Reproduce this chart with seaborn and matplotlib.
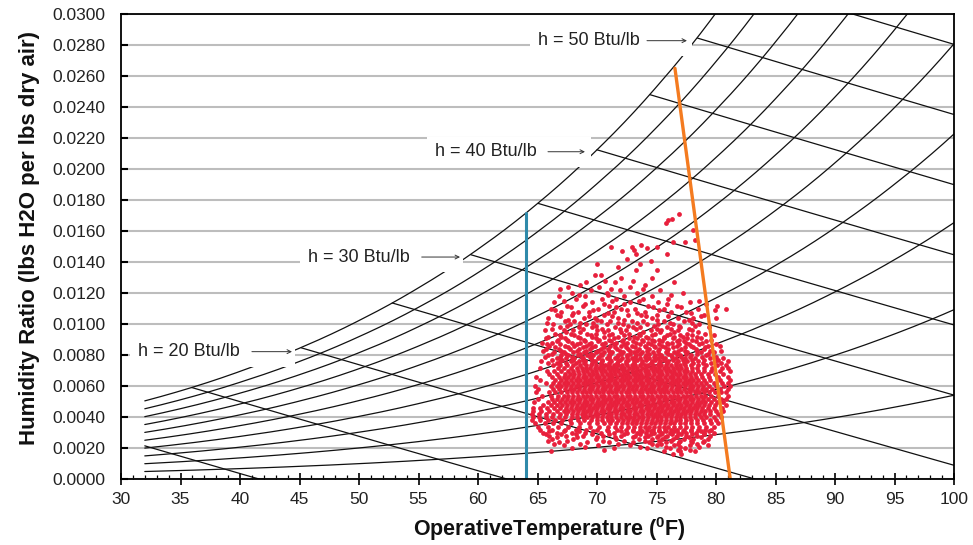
import numpy as np
import pandas as pd
import matplotlib
matplotlib.use("Agg")
import matplotlib.pyplot as plt
import seaborn as sns
from matplotlib.patches import Rectangle
from matplotlib.ticker import MultipleLocator, FormatStrFormatter

# ---------------- data ----------------
# saturation pressure of water vapour (psia) at chart temperatures (F)
psat_temps = [32, 35, 40, 45, 50, 55, 60, 65, 70, 75, 80, 85, 90, 95, 100]
psat_psia = [0.0887, 0.0999, 0.1217, 0.1475, 0.1781, 0.2141, 0.2563, 0.3057,
             0.3633, 0.4300, 0.5073, 0.5964, 0.6988, 0.8162, 0.9503]
chart_pressure_psia = 11.0
rh_levels = [0.1, 0.2, 0.3, 0.4, 0.5, 0.6, 0.7, 0.8, 0.9, 1.0]
enthalpy_levels = [10, 15, 20, 25, 30, 35, 40, 45, 50, 55]

lower_limit_t = [64.0, 64.0]
lower_limit_w = [0.0, 0.0172]
upper_limit_t = [81.2, 76.55]
upper_limit_w = [0.0, 0.0265]

label_texts = ["h = 20 Btu/lb", "h = 30 Btu/lb", "h = 40 Btu/lb", "h = 50 Btu/lb"]

# observed operative temperature / humidity ratio points, by humidity row
obs_rows = [
    (0.0171, [76.9]),
    (0.0168, [76.3]),
    (0.0167, [76.0]),
    (0.0165, [75.8]),
    (0.0161, [78.1]),
    (0.0154, [78.2]),
    (0.0153, [77.4, 76.4]),
    (0.0151, [73.7]),
    (0.0150, [71.2, 72.9, 75.0]),
    (0.0149, [74.2]),
    (0.0148, [73.1]),
    (0.0147, [72.1]),
    (0.0145, [75.9, 73.3]),
    (0.0142, [72.5]),
    (0.0141, [74.5]),
    (0.0139, [70.0, 73.6]),
    (0.0137, [71.8]),
    (0.0135, [73.3, 75.0]),
    (0.0132, [70.3, 69.8]),
    (0.0130, [74.6, 72.0]),
    (0.0128, [70.7, 73.0]),
    (0.0127, [69.1, 71.5, 76.5]),
    (0.0125, [68.6, 74.0]),
    (0.0124, [67.6, 70.2, 72.8]),
    (0.0123, [66.9, 71.2, 73.9]),
    (0.0122, [69.5, 71.9, 75.3]),
    (0.0120, [67.9, 70.8, 73.4, 77.2]),
    (0.0119, [68.5, 70.9, 76.2]),
    (0.0118, [66.8, 69.0, 72.3, 74.6]),
    (0.0116, [68.2, 70.4, 71.6, 73.9, 76.0]),
    (0.0115, [67.2, 71.3, 73.5, 78.6]),
    (0.0114, [66.4, 69.6, 72.8, 75.1, 77.8]),
    (0.0113, [69.0, 70.6, 72.3, 75.9, 79.2]),
    (0.0112, [67.5, 68.8, 71.0, 74.3, 76.7, 80.1]),
    (0.0111, [67.8, 71.6, 74.7, 77.1]),
    (0.0110, [66.1, 70.1, 72.0, 73.2, 75.6, 78.5, 80.8]),
    (0.0109, [66.5, 69.7, 72.5, 75.2, 79.9]),
    (0.0108, [67.0, 68.4, 69.3, 71.4, 74.0, 76.2, 77.5]),
    (0.0107, [68.0, 70.9, 73.4, 77.9]),
    (0.0106, [66.6, 67.9, 70.6, 72.6, 73.7, 75.0, 79.0]),
    (0.0105, [66.9, 69.3, 71.3, 74.1, 76.0, 78.7]),
    (0.0104, [65.9, 68.9, 69.8, 71.8, 74.6, 76.8, 78.1, 80.0]),
    (0.0103, [67.6, 70.0, 72.3, 75.0, 77.7]),
    (0.0102, [67.3, 68.1, 70.3, 71.1, 72.9, 73.9, 75.6, 77.3]),
    (0.0101, [65.8, 68.6, 69.7, 71.8, 73.4, 76.1, 78.0]),
    (0.0100, [66.3, 67.7, 69.1, 70.8, 72.2, 74.2, 75.1, 76.4, 78.6]),
    (0.0099, [67.5, 69.9, 72.6, 74.8, 76.9, 78.2]),
    (0.0098, [66.9, 68.5, 69.6, 71.5, 73.0, 73.6, 75.9, 77.0, 79.4]),
    (0.0097, [66.2, 68.8, 70.4, 71.9, 73.3, 75.0, 76.2, 77.7]),
    (0.0096, [65.6, 67.2, 68.0, 70.0, 70.9, 72.4, 74.5, 75.4, 76.8, 78.0]),
    (0.0095, [67.4, 68.6, 70.6, 72.0, 73.9, 75.3, 76.5, 78.5]),
    (0.0094, [66.5, 67.8, 69.2, 69.9, 71.3, 72.7, 73.5, 74.9, 76.1, 77.6, 79.1]),
    (0.0093, [66.9, 68.1, 69.5, 71.0, 72.3, 73.6, 74.6, 75.9, 77.0, 78.0, 79.8]),
    (0.0092, [65.9, 67.0, 68.4, 69.6, 70.6, 71.8, 73.1, 74.1, 75.6, 76.5, 77.2, 78.4]),
    (0.0091, [65.7, 67.3, 68.6, 69.9, 71.4, 72.7, 73.4, 74.3, 75.6, 76.4, 77.6, 78.7]),
    (0.0090, [66.7, 67.5, 68.9, 70.2, 71.0, 72.2, 73.8, 74.6, 75.2, 76.9, 78.0, 79.6]),
    (0.0089, [66.6, 67.6, 69.0, 70.1, 71.2, 72.1, 73.0, 73.9, 74.8, 75.5, 76.7, 77.3, 78.3, 79.2]),
    (0.0088, [65.4, 66.2, 67.9, 68.6, 69.5, 70.7, 71.6, 72.5, 73.3, 74.3, 75.9, 76.3, 77.5, 78.8]),
    (0.0087, [65.8, 66.9, 68.3, 69.3, 70.4, 71.4, 72.3, 73.6, 74.5, 75.2, 76.0, 76.9, 77.7, 78.6, 80.0]),
    (0.0086, [66.0, 67.3, 68.1, 69.1, 69.8, 71.1, 72.0, 72.9, 74.0, 74.8, 75.5, 76.7, 77.9, 79.3, 80.3]),
    (0.0085, [66.5, 67.6, 68.8, 69.6, 70.6, 71.5, 72.4, 73.2, 74.1, 74.9, 75.7, 76.4, 77.4, 78.1, 79.1]),
    (0.0084, [65.7, 66.8, 67.7, 68.5, 69.4, 70.3, 70.9, 71.7, 72.6, 73.5, 74.4, 75.2, 76.0, 77.1, 78.3, 79.0]),
    (0.0083, [65.5, 67.0, 68.3, 69.1, 70.1, 71.0, 71.9, 72.8, 73.4, 74.2, 75.1, 75.9, 76.8, 77.4, 78.4, 79.5,
              80.4]),
    (0.0082, [66.4, 67.2, 68.0, 68.9, 69.9, 70.6, 71.3, 72.2, 73.1, 73.8, 74.7, 75.8, 76.5, 77.6, 78.7, 79.8]),
    (0.0081, [66.2, 67.4, 68.6, 69.5, 70.3, 71.1, 72.0, 72.8, 73.6, 74.4, 75.2, 76.0, 76.7, 77.5, 78.4, 79.3]),
    (0.0080, [65.9, 67.0, 67.6, 68.4, 69.2, 69.7, 70.4, 71.0, 71.8, 72.5, 73.3, 74.1, 74.9, 75.4, 76.2, 77.0,
              77.9, 79.2]),
    (0.0079, [65.6, 66.9, 67.9, 68.7, 69.4, 70.2, 71.0, 71.7, 72.5, 73.2, 74.0, 74.8, 75.5, 76.3, 77.1, 77.8,
              78.8, 80.0]),
    (0.0078, [66.6, 67.4, 68.1, 68.8, 69.5, 70.1, 70.8, 71.5, 72.1, 72.9, 73.6, 74.4, 75.1, 75.7, 76.6, 77.4,
              78.2, 79.5, 80.6]),
    (0.0077, [66.2, 67.1, 68.0, 68.8, 69.6, 70.4, 71.1, 71.9, 72.6, 73.4, 74.1, 74.9, 75.6, 76.4, 77.2, 78.0,
              79.0, 80.2]),
    (0.0076, [65.3, 66.9, 67.8, 68.5, 69.0, 69.8, 70.4, 71.2, 71.8, 72.4, 73.1, 73.8, 74.6, 75.3, 76.0, 76.8,
              77.6, 78.5, 79.9, 81.0]),
    (0.0075, [65.9, 66.6, 67.4, 68.2, 68.9, 69.6, 70.3, 71.0, 71.7, 72.4, 73.1, 73.8, 74.5, 75.2, 75.9, 76.6,
              77.3, 78.1, 78.9, 79.6, 80.4]),
    (0.0074, [66.3, 66.9, 67.5, 68.0, 68.6, 69.1, 69.5, 69.9, 70.3, 70.7, 71.0, 71.4, 71.8, 72.1, 72.5,
              72.9, 73.2, 73.6, 74.0, 74.3, 74.7, 75.1, 75.4, 75.8, 76.2, 76.6, 77.0, 77.4, 77.9, 78.5, 79.2,
              80.1, 80.8]),
    (0.0072, [65.2, 66.7, 67.2, 67.8, 68.3, 68.7, 69.1, 69.4, 69.8, 70.2, 70.5, 70.9, 71.3, 71.6, 72.0,
              72.3, 72.7, 73.0, 73.4, 73.8, 74.1, 74.5, 74.9, 75.2, 75.6, 76.0, 76.4, 76.7, 77.1, 77.5, 78.0,
              78.4, 79.0, 79.7, 80.5, 81.0]),
    (0.0070, [65.8, 66.4, 67.0, 67.6, 68.0, 68.4, 68.8, 69.2, 69.6, 69.9, 70.3, 70.7, 71.1, 71.4, 71.8,
              72.2, 72.5, 72.9, 73.3, 73.6, 74.0, 74.3, 74.7, 75.0, 75.4, 75.8, 76.1, 76.5, 76.9, 77.3, 77.6,
              78.0, 78.5, 79.0, 79.6, 80.3, 81.2]),
    (0.0068, [66.0, 66.6, 67.3, 67.7, 68.1, 68.5, 68.9, 69.3, 69.7, 70.0, 70.4, 70.8, 71.2, 71.5, 71.9,
              72.3, 72.6, 73.0, 73.4, 73.7, 74.1, 74.4, 74.8, 75.2, 75.5, 75.9, 76.3, 76.6, 77.0, 77.4, 77.8,
              78.2, 78.7, 79.3, 79.9, 80.6]),
    (0.0066, [64.9, 66.2, 66.8, 67.2, 67.6, 68.0, 68.4, 68.8, 69.1, 69.5, 69.9, 70.2, 70.6, 71.0, 71.3,
              71.7, 72.1, 72.4, 72.8, 73.2, 73.5, 73.9, 74.2, 74.6, 75.0, 75.3, 75.7, 76.1, 76.4, 76.8, 77.2,
              77.5, 77.9, 78.3, 78.8, 79.4, 80.2, 81.0]),
    (0.0064, [65.2, 66.5, 67.0, 67.4, 67.8, 68.2, 68.6, 69.0, 69.3, 69.7, 70.1, 70.4, 70.8, 71.2, 71.5,
              71.9, 72.3, 72.6, 73.0, 73.4, 73.7, 74.1, 74.4, 74.8, 75.2, 75.5, 75.9, 76.3, 76.6, 77.0, 77.4,
              77.7, 78.1, 78.5, 79.0, 79.5, 80.3, 81.2]),
    (0.0062, [65.7, 66.3, 66.8, 67.2, 67.6, 68.0, 68.4, 68.8, 69.2, 69.5, 69.9, 70.3, 70.6, 71.0, 71.4,
              71.7, 72.1, 72.5, 72.8, 73.2, 73.6, 73.9, 74.3, 74.6, 75.0, 75.4, 75.7, 76.1, 76.5, 76.8, 77.2,
              77.6, 77.9, 78.3, 78.7, 79.2, 79.8, 80.5, 81.0]),
    (0.0060, [64.8, 66.1, 66.6, 67.0, 67.4, 67.8, 68.2, 68.6, 69.0, 69.4, 69.7, 70.1, 70.5, 70.8, 71.2,
              71.6, 71.9, 72.3, 72.7, 73.0, 73.4, 73.8, 74.1, 74.5, 74.8, 75.2, 75.6, 75.9, 76.3, 76.7, 77.0,
              77.4, 77.8, 78.1, 78.5, 78.9, 79.4, 80.0, 80.7, 81.2]),
    (0.0058, [65.0, 66.3, 66.8, 67.3, 67.7, 68.1, 68.5, 68.9, 69.3, 69.6, 70.0, 70.4, 70.7, 71.1, 71.5,
              71.8, 72.2, 72.6, 72.9, 73.3, 73.7, 74.0, 74.4, 74.7, 75.1, 75.5, 75.8, 76.2, 76.6, 76.9, 77.3,
              77.7, 78.0, 78.4, 78.8, 79.2, 79.7, 80.3, 81.0]),
    (0.0056, [64.9, 66.0, 66.5, 67.0, 67.5, 67.9, 68.3, 68.7, 69.1, 69.4, 69.8, 70.2, 70.5, 70.9, 71.3,
              71.6, 72.0, 72.4, 72.7, 73.1, 73.5, 73.8, 74.2, 74.5, 74.9, 75.3, 75.6, 76.0, 76.4, 76.7, 77.1,
              77.5, 77.8, 78.2, 78.6, 79.0, 79.4, 79.9, 80.4, 80.8]),
    (0.0054, [65.4, 66.1, 66.7, 67.2, 67.6, 68.0, 68.4, 68.8, 69.2, 69.5, 69.9, 70.3, 70.6, 71.0, 71.4,
              71.7, 72.1, 72.5, 72.8, 73.2, 73.6, 73.9, 74.3, 74.6, 75.0, 75.4, 75.7, 76.1, 76.5, 76.8, 77.2,
              77.6, 77.9, 78.3, 78.7, 79.1, 79.6, 80.2, 81.0]),
    (0.0052, [65.0, 66.2, 66.6, 67.1, 67.5, 67.9, 68.3, 68.6, 69.0, 69.4, 69.7, 70.1, 70.5, 70.8, 71.2,
              71.6, 71.9, 72.3, 72.7, 73.0, 73.4, 73.8, 74.1, 74.5, 74.8, 75.2, 75.6, 75.9, 76.3, 76.7, 77.0,
              77.4, 77.8, 78.1, 78.5, 78.9, 79.3, 79.8, 80.4, 80.8]),
    (0.0050, [64.7, 65.9, 66.4, 66.9, 67.3, 67.7, 68.1, 68.5, 68.9, 69.2, 69.6, 70.0, 70.3, 70.7, 71.1,
              71.4, 71.8, 72.2, 72.5, 72.9, 73.3, 73.6, 74.0, 74.3, 74.7, 75.1, 75.4, 75.8, 76.2, 76.5, 76.9,
              77.3, 77.6, 78.0, 78.4, 78.7, 79.1, 79.6, 80.1, 80.6]),
    (0.0048, [65.5, 66.1, 66.6, 67.1, 67.5, 67.9, 68.3, 68.7, 69.1, 69.4, 69.8, 70.2, 70.5, 70.9, 71.3,
              71.6, 72.0, 72.4, 72.7, 73.1, 73.5, 73.8, 74.2, 74.5, 74.9, 75.3, 75.6, 76.0, 76.4, 76.7, 77.1,
              77.5, 77.8, 78.2, 78.6, 79.0, 79.4, 79.9, 80.8]),
    (0.0046, [64.6, 65.2, 65.8, 66.4, 66.9, 67.4, 67.8, 68.2, 68.6, 68.9, 69.3, 69.7, 70.0, 70.4, 70.8, 71.1,
              71.5, 71.9, 72.2, 72.6, 73.0, 73.3, 73.7, 74.1, 74.4, 74.8, 75.1, 75.5, 75.9, 76.2, 76.6, 77.0,
              77.3, 77.7, 78.1, 78.4, 78.8, 79.3, 79.8, 80.5]),
    (0.0044, [64.6, 65.3, 66.0, 66.6, 67.2, 67.6, 68.0, 68.4, 68.8, 69.2, 69.5, 69.9, 70.3, 70.6, 71.0, 71.4,
              71.7, 72.1, 72.5, 72.8, 73.2, 73.6, 73.9, 74.3, 74.6, 75.0, 75.4, 75.7, 76.1, 76.5, 76.8, 77.2,
              77.6, 77.9, 78.3, 78.7, 79.1, 79.5, 80.0, 80.6]),
    (0.0042, [64.5, 65.1, 65.7, 66.3, 66.9, 67.4, 67.9, 68.3, 68.7, 69.0, 69.4, 69.8, 70.1, 70.5, 70.9, 71.2,
              71.6, 72.0, 72.3, 72.7, 73.1, 73.4, 73.8, 74.2, 74.5, 74.9, 75.2, 75.6, 76.0, 76.3, 76.7, 77.1,
              77.4, 77.8, 78.2, 78.6, 79.0, 79.5, 80.2]),
    (0.0040, [64.6, 65.1, 65.7, 66.2, 66.8, 67.3, 67.9, 68.3, 68.8, 69.2, 69.6, 70.0, 70.4, 70.8, 71.2, 71.6,
              72.0, 72.4, 72.8, 73.1, 73.5, 73.9, 74.3, 74.7, 75.0, 75.4, 75.8, 76.2, 76.6, 77.0, 77.4, 77.8,
              78.2, 78.7, 79.2, 79.8, 80.4]),
    (0.0038, [64.5, 65.2, 65.9, 66.5, 67.1, 67.7, 68.4, 68.9, 69.5, 70.0, 70.4, 70.9, 71.3, 71.8, 72.2, 72.6,
              73.0, 73.4, 73.8, 74.2, 74.6, 75.0, 75.4, 75.8, 76.2, 76.6, 77.0, 77.5, 77.9, 78.4, 78.9, 79.5,
              80.0]),
    (0.0036, [64.8, 65.6, 66.3, 67.0, 67.8, 68.6, 69.3, 70.0, 70.6, 71.1, 71.6, 72.1, 72.5, 72.9, 73.3, 73.7,
              74.1, 74.5, 74.9, 75.3, 75.7, 76.1, 76.5, 77.0, 77.4, 77.9, 78.4, 79.0, 79.6, 80.2]),
    (0.0034, [65.0, 65.9, 66.7, 67.6, 68.5, 69.4, 70.2, 70.9, 71.5, 72.0, 72.6, 73.1, 73.6, 74.0, 74.4, 74.8,
              75.2, 75.6, 76.0, 76.5, 77.0, 77.5, 78.0, 78.6, 79.2, 79.8]),
    (0.0032, [65.2, 66.2, 67.3, 68.2, 69.1, 70.0, 70.8, 71.7, 72.4, 73.0, 73.6, 74.2, 74.7, 75.2, 75.7, 76.2,
              76.7, 77.3, 77.9, 78.5, 79.1, 79.6]),
    (0.0031, [66.0, 67.2, 68.5, 69.7, 70.9, 72.0, 73.0, 73.8, 74.5, 75.2, 75.8, 76.5, 77.2, 77.9, 78.7, 79.4]),
    (0.0030, [65.5, 66.6, 67.9, 69.0, 70.3, 71.4, 72.5, 73.4, 74.1, 74.8, 75.5, 76.1, 76.8, 77.5, 78.3, 79.0,
              79.8]),
    (0.0029, [65.7, 67.0, 68.2, 69.6, 71.0, 72.3, 73.6, 74.5, 75.4, 76.3, 77.1, 78.0, 79.0]),
    (0.0028, [66.0, 67.4, 68.8, 70.5, 72.0, 73.2, 74.3, 75.1, 75.9, 76.7, 77.5, 78.4, 79.5]),
    (0.0027, [66.6, 68.3, 70.0, 71.5, 73.0, 74.0, 75.0, 75.7, 76.6, 77.7, 78.7]),
    (0.0026, [66.2, 68.0, 69.9, 71.6, 73.5, 74.6, 75.5, 76.4, 77.3, 78.1, 79.3]),
    (0.0025, [65.9, 67.5, 70.5, 72.3, 74.0, 75.2, 76.2, 77.0, 77.9, 79.0]),
    (0.0024, [66.8, 69.2, 71.0, 73.0, 74.4, 75.8, 76.9, 78.0, 78.9]),
    (0.0023, [66.4, 68.6, 71.8, 74.6, 75.4, 76.8, 78.4]),
    (0.0022, [67.2, 70.1, 72.8, 75.0, 76.5, 77.8, 79.3]),
    (0.0021, [69.0, 73.6, 75.8, 77.0, 78.6]),
    (0.0020, [67.9, 71.4, 74.2, 76.1, 77.4]),
    (0.0019, [70.6, 76.8, 77.8]),
    (0.0018, [66.1, 75.6, 77.0, 78.2]),
    (0.0016, [76.4, 77.1]),
]

# ---------------- build tables ----------------
obs = pd.DataFrame([(x, y) for y, xs in obs_rows for x in xs], columns=["temp", "w"])

t = np.linspace(32, 100, 1361)
pws = np.exp(np.interp(t, psat_temps, np.log(psat_psia)))


def w_at(phi):
    pw = phi * pws
    return 0.622 * pw / (chart_pressure_psia - pw)


w_sat = w_at(1.0)

# ---------------- figure ----------------
sns.set_theme(style="white")
plt.rcParams["font.family"] = ["Liberation Sans", "DejaVu Sans"]
plt.rcParams["mathtext.fontset"] = "custom"
plt.rcParams["mathtext.rm"] = "Liberation Sans"
plt.rcParams["mathtext.bf"] = "Liberation Sans:bold"

fig = plt.figure(figsize=(9.73, 5.45), dpi=100)
ax = fig.add_axes([121 / 973, 1 - 479.3 / 545, (954 - 121) / 973, (479.3 - 14) / 545])

ax.set_xlim(30, 100)
ax.set_ylim(0, 0.03)

# grid
ax.set_axisbelow(True)
ax.yaxis.set_major_locator(MultipleLocator(0.002))
ax.yaxis.set_major_formatter(FormatStrFormatter("%.4f"))
ax.xaxis.set_major_locator(MultipleLocator(5))
ax.xaxis.set_minor_locator(MultipleLocator(1))
ax.grid(axis="y", color="#bdbdbd", lw=1.5, zorder=0.5)
ax.grid(axis="x", visible=False)

# relative humidity curves
for phi in rh_levels:
    ax.plot(t, w_at(phi), color="#111111", lw=0.9, zorder=2)

# enthalpy lines
for h in enthalpy_levels:
    w_line = (h - 0.24 * t) / (1061 + 0.444 * t)
    mask = (w_line <= w_sat) & (w_line >= -0.0001)
    ax.plot(t[mask], np.clip(w_line[mask], 0, None), color="#111111", lw=0.9, zorder=2)

# observed points
sns.scatterplot(data=obs, x="temp", y="w", ax=ax, color="#e8203c", s=12,
                linewidth=0, alpha=1.0, zorder=3, legend=False)

# comfort limits
sns.lineplot(x=lower_limit_t, y=lower_limit_w, ax=ax, color="#2f8aaa", lw=2.2,
             sort=False, estimator=None, zorder=4)
sns.lineplot(x=upper_limit_t, y=upper_limit_w, ax=ax, color="#f47b20", lw=2.4,
             sort=False, estimator=None, zorder=4)

# enthalpy labels with white boxes and arrows
# (text_x, text_y, box_x0, box_x1, arrow_x0, arrow_x1)
label_pos = [
    (31.43, 0.00823, 30.76, 44.62, 41.0, 44.37),
    (45.71, 0.01433, 45.04, 58.74, 55.27, 58.49),
    (56.39, 0.02112, 55.71, 69.50, 65.88, 68.99),
    (65.04, 0.02828, 64.37, 77.98, 74.2, 77.56),
]
half_h = 0.00097
for txt, (tx, ty, bx0, bx1, ax0, ax1) in zip(label_texts, label_pos):
    ax.add_patch(Rectangle((bx0, ty - half_h), bx1 - bx0, 2 * half_h,
                           facecolor="white", edgecolor="none", zorder=3.5))
    ax.text(tx, ty, txt, fontsize=13, color="#222222", ha="left", va="center", zorder=6)
    ax.annotate("", xy=(ax1, ty), xytext=(ax0, ty),
                arrowprops=dict(arrowstyle="->", lw=0.7, color="#333333",
                                mutation_scale=7, shrinkA=0, shrinkB=0),
                zorder=6)

# axes styling
for sp in ax.spines.values():
    sp.set_visible(True)
    sp.set_color("black")
    sp.set_linewidth(1.3)
    sp.set_zorder(7)

ax.tick_params(axis="x", which="major", direction="inout", length=8, width=1.2,
               color="black", pad=5, labelsize=12.5, labelcolor="#222222")
ax.tick_params(axis="x", which="minor", direction="in", length=3, width=0.9, color="black")
ax.tick_params(axis="y", which="major", direction="in", length=5, width=1.5,
               color="black", pad=11, labelsize=12.5, labelcolor="#222222")
ax.tick_params(left=True, bottom=True, which="both")

ax.set_xlabel("")
ax.set_ylabel("")
fig.text(549 / 973, 1 - 536 / 545, r"OperativeTemperature ($^{\mathbf{0}}$F)",
         fontsize=15.5, fontweight="bold", color="#111111", ha="center", va="baseline")
fig.text(30 / 973, 1 - 238 / 545, "Humidity Ratio (lbs H2O per lbs dry air)",
         fontsize=16, fontweight="bold", color="#111111", ha="center", va="center",
         rotation=90)

fig.savefig("out.png", dpi=100)
